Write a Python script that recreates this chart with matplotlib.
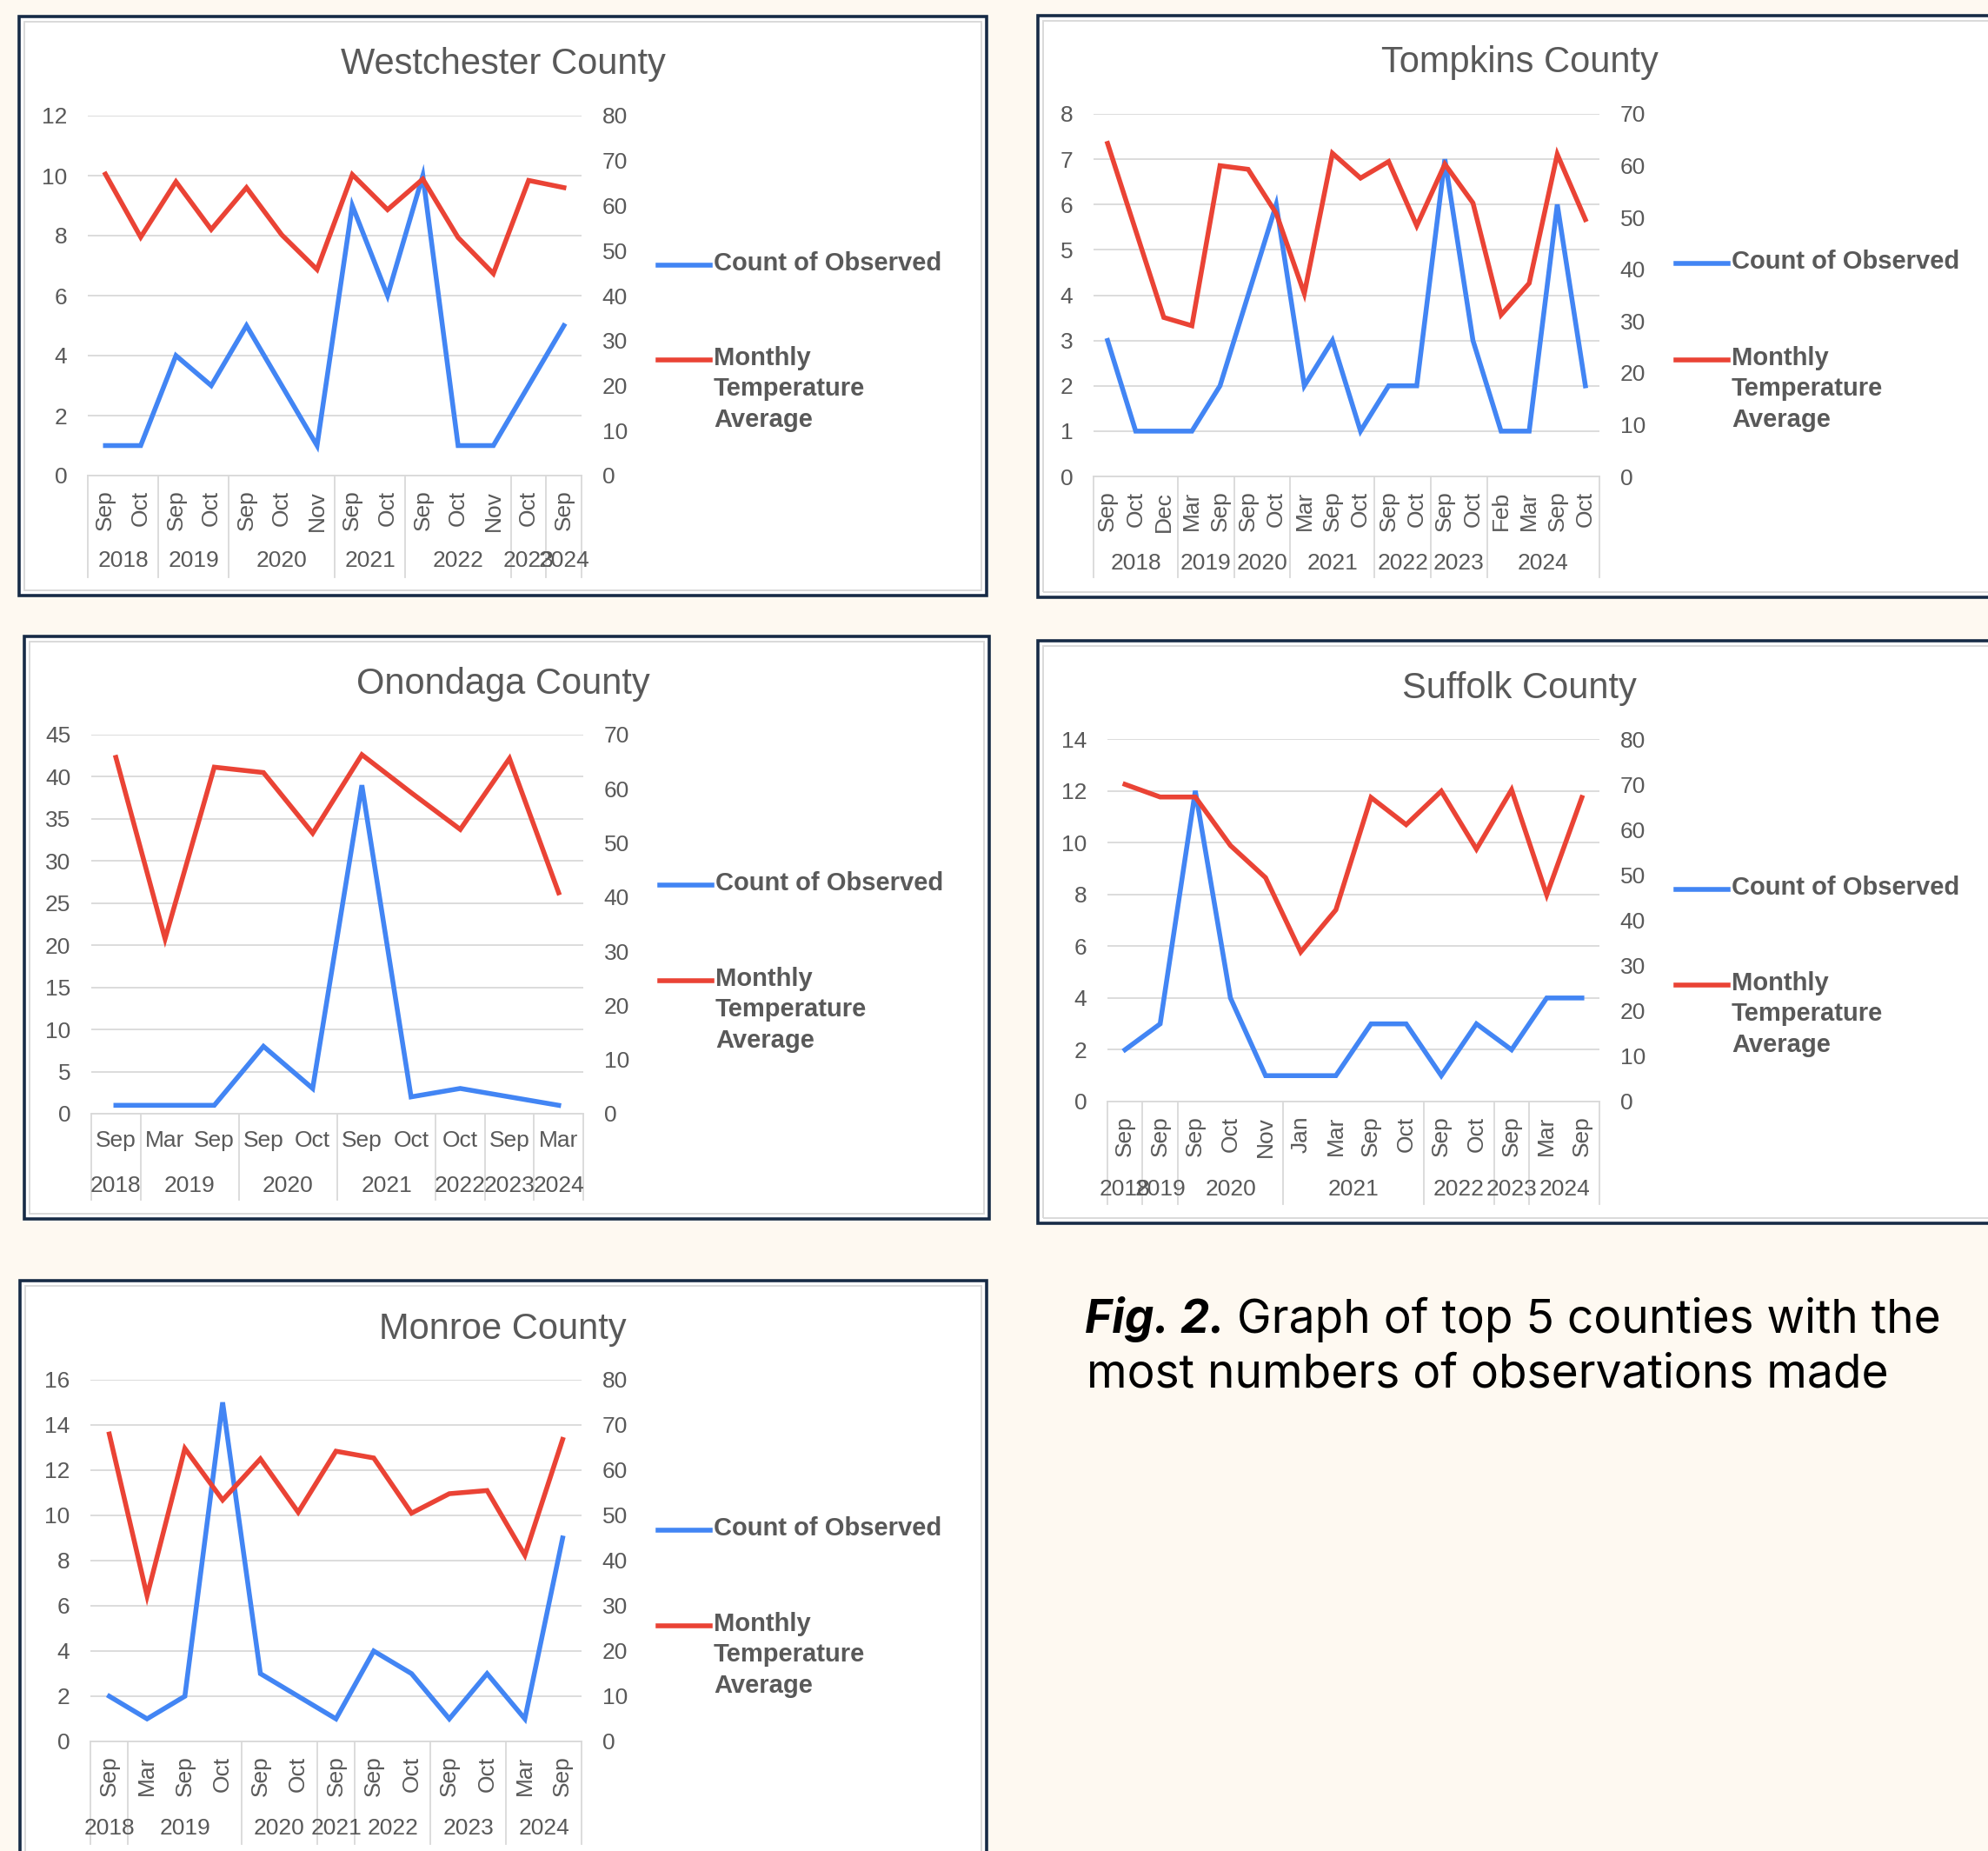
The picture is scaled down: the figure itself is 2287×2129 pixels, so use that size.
import matplotlib
matplotlib.use("Agg")
import matplotlib.pyplot as plt
from matplotlib.patches import Rectangle
from matplotlib.lines import Line2D

# ---- data ----
west_months = ['Sep', 'Oct', 'Sep', 'Oct', 'Sep', 'Oct', 'Nov', 'Sep', 'Oct', 'Sep', 'Oct', 'Nov', 'Oct', 'Sep']
west_years = ['2018', '2018', '2019', '2019', '2020', '2020', '2020', '2021', '2021', '2022', '2022', '2022', '2023', '2024']
west_count = [1, 1, 4, 3, 5, 3, 1, 9, 6, 10, 1, 1, 3, 5]
west_temp = [67, 53, 65.3, 54.7, 64, 53.5, 45.8, 66.9, 59.1, 65.9, 52.9, 44.9, 65.6, 64]

tomp_months = ['Sep', 'Oct', 'Dec', 'Mar', 'Sep', 'Sep', 'Oct', 'Mar', 'Sep', 'Oct', 'Sep', 'Oct', 'Sep', 'Oct',
               'Feb', 'Mar', 'Sep', 'Oct']
tomp_years = ['2018', '2018', '2018', '2019', '2019', '2020', '2020', '2021', '2021', '2021', '2022', '2022',
              '2023', '2023', '2024', '2024', '2024', '2024']
tomp_count = [3, 1, 1, 1, 2, 4, 6, 2, 3, 1, 2, 2, 7, 3, 1, 1, 6, 2]
tomp_temp = [64.3, 47.5, 30.7, 29.1, 60.0, 59.3, 50.8, 35.3, 62.4, 57.6, 60.8, 48.4, 60.3, 52.8, 31.2, 37.3, 62.2, 49.6]

onon_months = ['Sep', 'Mar', 'Sep', 'Sep', 'Oct', 'Sep', 'Oct', 'Oct', 'Sep', 'Mar']
onon_years = ['2018', '2019', '2019', '2020', '2020', '2021', '2021', '2022', '2023', '2024']
onon_count = [1, 1, 1, 8, 3, 39, 2, 3, 2, 1]
onon_temp = [65.8, 32.3, 64.0, 63.0, 51.8, 66.3, 59.3, 52.5, 65.6, 40.8]

suff_months = ['Sep', 'Sep', 'Sep', 'Oct', 'Nov', 'Jan', 'Mar', 'Sep', 'Oct', 'Sep', 'Oct', 'Sep', 'Mar', 'Sep']
suff_years = ['2018', '2019', '2020', '2020', '2020', '2021', '2021', '2021', '2021', '2022', '2022', '2023',
              '2024', '2024']
suff_count = [2, 3, 12, 4, 1, 1, 1, 3, 3, 1, 3, 2, 4, 4]
suff_temp = [70.0, 67.2, 67.2, 56.5, 49.4, 33.0, 42.3, 67.1, 61.1, 68.5, 55.7, 68.8, 45.6, 67.1]

monr_months = ['Sep', 'Mar', 'Sep', 'Oct', 'Sep', 'Oct', 'Sep', 'Sep', 'Oct', 'Sep', 'Oct', 'Mar', 'Sep']
monr_years = ['2018', '2019', '2019', '2019', '2020', '2020', '2021', '2022', '2022', '2023', '2023', '2024', '2024']
monr_count = [2, 1, 2, 15, 3, 2, 1, 4, 3, 1, 3, 1, 9]
monr_temp = [68.0, 32.2, 64.8, 53.4, 62.5, 50.7, 64.2, 62.7, 50.5, 54.8, 55.5, 41.2, 66.8]

# ---- layout (pixels) ----
W, H = 2287, 2129
BG = '#FEF9F1'
BLUE = '#4285F4'
RED = '#EA4335'
GRAY = '#595959'
GRID = '#D9D9D9'
NAVY = '#172B46'
FONT = ['Liberation Sans', 'DejaVu Sans']

fig = plt.figure(figsize=(W / 100, H / 100), dpi=100, facecolor=BG)


def fx(x):
    return x / W


def fy(y):
    return 1 - y / H


def panel_box(x0, y0, x1, y1):
    fig.add_artist(Rectangle((fx(x0), fy(y1)), (x1 - x0) / W, (y1 - y0) / H, transform=fig.transFigure,
                             facecolor='white', edgecolor=NAVY, lw=2.6, zorder=0))
    fig.add_artist(Rectangle((fx(x0 + 6), fy(y1 - 6)), (x1 - x0 - 12) / W, (y1 - y0 - 12) / H,
                             transform=fig.transFigure, facecolor='none', edgecolor=GRID, lw=1.4, zorder=0))


def draw_panel(box, plot, title, title_xy, months, years, count, temp, lmax, lstep, rmax, rstep,
               rotate, depth, year_off, leg_y):
    panel_box(*box)
    x0, y0, x1, y1 = plot
    ax = fig.add_axes([fx(x0), fy(y1), (x1 - x0) / W, (y1 - y0) / H])
    ax.set_facecolor('none')
    n = len(months)
    xs = list(range(n))
    ax.plot(xs, count, color=BLUE, lw=4, solid_joinstyle='miter', zorder=3)
    ax.set_xlim(-0.5, n - 0.5)
    ax.set_ylim(0, lmax)
    ax.set_yticks(range(0, lmax + 1, lstep))
    ax.grid(axis='y', color=GRID, lw=1.3)
    ax.set_axisbelow(True)
    for s in ['top', 'left', 'right']:
        ax.spines[s].set_visible(False)
    ax.spines['bottom'].set_color(GRID)
    ax.spines['bottom'].set_linewidth(1.3)
    ax.set_xticks(xs)
    ax.set_xticklabels(months, rotation=90 if rotate else 0, family=FONT, fontsize=19, color=GRAY)
    ax.tick_params(axis='x', length=0, pad=12 if rotate else 14)
    ax.tick_params(axis='y', length=0, pad=17, labelsize=19, labelcolor=GRAY)
    for lab in ax.get_yticklabels():
        lab.set_family(FONT)

    ax2 = ax.twinx()
    ax2.plot(xs, temp, color=RED, lw=4, solid_joinstyle='miter', zorder=3)
    ax2.set_ylim(0, rmax)
    ax2.set_yticks(range(0, rmax + 1, rstep))
    ax2.tick_params(axis='y', length=0, pad=17, labelsize=19, labelcolor=GRAY)
    for lab in ax2.get_yticklabels():
        lab.set_family(FONT)
    for s in ax2.spines.values():
        s.set_visible(False)

    # year groups along the category axis
    trans = ax.get_xaxis_transform()
    start = 0
    edges = [-0.5]
    for i in range(1, n + 1):
        if i == n or years[i] != years[start]:
            ax.annotate(years[start], xy=((start + i - 1) / 2, 0), xycoords=trans, xytext=(0, -year_off),
                        textcoords='offset pixels', ha='center', va='center', family=FONT, fontsize=19,
                        color=GRAY, annotation_clip=False)
            edges.append(i - 0.5)
            start = i
    for e in edges:
        ax.plot([e, e], [0, -depth], transform=trans, color=GRID, lw=1.3, clip_on=False)

    fig.text(fx(title_xy[0]), fy(title_xy[1] + 3), title, ha='center', va='center', family=FONT,
             fontsize=30, color=GRAY)

    # legend
    lx = x1 + 88
    for (y, c, txt) in [(leg_y[0], BLUE, 'Count of Observed'),
                        (leg_y[1], RED, 'Monthly\nTemperature\nAverage')]:
        fig.add_artist(Line2D([fx(lx), fx(lx + 60)], [fy(y), fy(y)], transform=fig.transFigure,
                              color=c, lw=4))
        fig.text(fx(lx + 64), fy(y - 16), txt, ha='left', va='top', family=FONT, fontsize=21,
                 fontweight='bold', color=GRAY, linespacing=1.33)


draw_panel((22, 19, 1135, 685), (101, 133, 669, 547), 'Westchester County', (579, 71),
           west_months, west_years, west_count, west_temp, 12, 2, 80, 10, True, 0.283, 98, (305, 414))
draw_panel((1194, 18, 2310, 687), (1258, 131, 1840, 548), 'Tompkins County', (1748, 69),
           tomp_months, tomp_years, tomp_count, tomp_temp, 8, 1, 70, 10, True, 0.278, 100, (303, 414))
draw_panel((28, 732, 1138, 1402), (105, 845, 671, 1281), 'Onondaga County', (579, 784),
           onon_months, onon_years, onon_count, onon_temp, 45, 5, 70, 10, False, 0.227, 83, (1018, 1128))
draw_panel((1194, 737, 2310, 1407), (1274, 850, 1840, 1267), 'Suffolk County', (1748, 789),
           suff_months, suff_years, suff_count, suff_temp, 14, 2, 80, 10, True, 0.283, 101, (1023, 1133))
draw_panel((23, 1473, 1135, 2160), (104, 1587, 669, 2003), 'Monroe County', (578, 1526),
           monr_months, monr_years, monr_count, monr_temp, 16, 2, 80, 10, True, 0.284, 100, (1760, 1870))

# caption
cap_font = ['Inter', 'DejaVu Sans']
cap_size = 38.3
t1 = fig.text(fx(1248), fy(1533), 'Fig. 2.', ha='left', va='baseline', family=cap_font, fontsize=cap_size,
              fontweight='bold', style='italic', color='black')
fig.canvas.draw()
bb = t1.get_window_extent()
fig.text(bb.x1 / W + 14 / W, fy(1533), 'Graph of top 5 counties with the', ha='left', va='baseline',
         family=cap_font, fontsize=cap_size, color='black')
fig.text(fx(1250), fy(1596), 'most numbers of observations made', ha='left', va='baseline',
         family=cap_font, fontsize=cap_size, color='black')

fig.savefig('out.png', dpi=100, facecolor=BG)
